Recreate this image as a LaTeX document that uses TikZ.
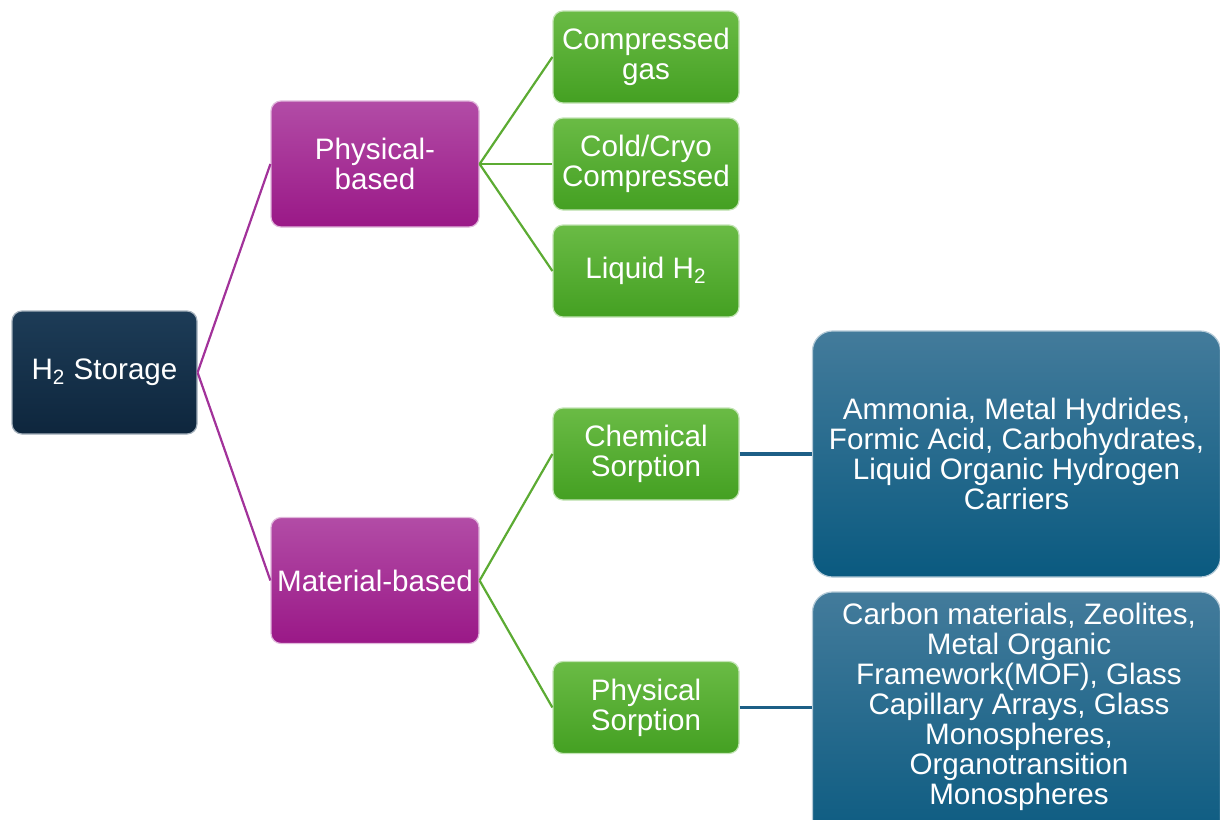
\documentclass[tikz,border=0pt]{standalone}
\usepackage{fontspec}
\setmainfont{Liberation Sans}
\usetikzlibrary{shapes.misc}

\definecolor{navytop}{HTML}{1D3C57}
\definecolor{navybot}{HTML}{0E263D}
\definecolor{plumtop}{HTML}{B24CA6}
\definecolor{plumbot}{HTML}{9A1887}
\definecolor{leaftop}{HTML}{6ABB45}
\definecolor{leafbot}{HTML}{44A022}
\definecolor{seatop}{HTML}{437B9B}
\definecolor{seabot}{HTML}{0A5A80}
\definecolor{plumline}{HTML}{A2329A}
\definecolor{leafline}{HTML}{5CAB33}
\definecolor{sealine}{HTML}{1D5F86}

\begin{document}
\begin{tikzpicture}[x=0.5pt,y=-0.5pt,
	box/.style={rounded corners=5pt, draw=white!60!#1top, line width=0.6pt,
		top color=#1top, bottom color=#1bot, text=white, align=center,
		font=\fontsize{14.8}{15}\selectfont, inner sep=0pt},
	rootbox/.style={box=navy, minimum width=92.5pt, minimum height=61.5pt},
	midbox/.style={box=plum, minimum width=104pt, minimum height=63pt},
	leafbox/.style={box=leaf, minimum width=93pt, minimum height=46pt},
	listbox/.style={box=sea, minimum width=204pt, minimum height=123pt, rounded corners=10pt},
	plumlink/.style={plumline, line width=1.1pt},
	leaflink/.style={leafline, line width=1.1pt},
	sealink/.style={sealine, line width=1.8pt}]
	\useasboundingbox (0,0) rectangle (1220,819);
	\clip (0,0) rectangle (1220,819);
		\node[rootbox] (store) at (104.5,372.5) {H\textsubscript{2} Storage};
		\node[midbox] (phys) at (375,164) {Physical-\\based};
		\node[midbox] (mat) at (375,580.5) {Material-based};
		\node[leafbox] (gas) at (646,57) {Compressed\\gas};
		\node[leafbox] (cryo) at (646,164) {Cold/Cryo\\Compressed};
		\node[leafbox] (liq) at (646,271) {Liquid H\textsubscript{2}};
		\node[leafbox] (chem) at (646,454) {Chemical\\Sorption};
		\node[leafbox] (psorp) at (646,707.5) {Physical\\Sorption};
		\node[listbox] (chemlist) at (1016.5,454) {Ammonia, Metal Hydrides,\\Formic Acid, Carbohydrates,\\Liquid Organic Hydrogen\\Carriers};
		\node[listbox, minimum height=130pt] (physlist) at (1016.5,722) {};
		\node[text=white, align=center, font=\fontsize{14.8}{15}\selectfont] (physlisttext) at (1019,707) {Carbon materials, Zeolites,\\Metal Organic\\Framework(MOF), Glass\\Capillary Arrays, Glass\\Monospheres,\\Organotransition\\Monospheres};
	%	links
		\draw[plumlink] (store.east) -- (phys.west);
		\draw[plumlink] (store.east) -- (mat.west);
		\draw[leaflink] (phys.east) -- (gas.west);
		\draw[leaflink] (phys.east) -- (cryo.west);
		\draw[leaflink] (phys.east) -- (liq.west);
		\draw[leaflink] (mat.east) -- (chem.west);
		\draw[leaflink] (mat.east) -- (psorp.west);
		\draw[sealink] (chem.east) -- (chemlist.west);
		\draw[sealink] (psorp.east) -- (psorp.east -| physlist.west);
	\end{tikzpicture}
\end{document}
